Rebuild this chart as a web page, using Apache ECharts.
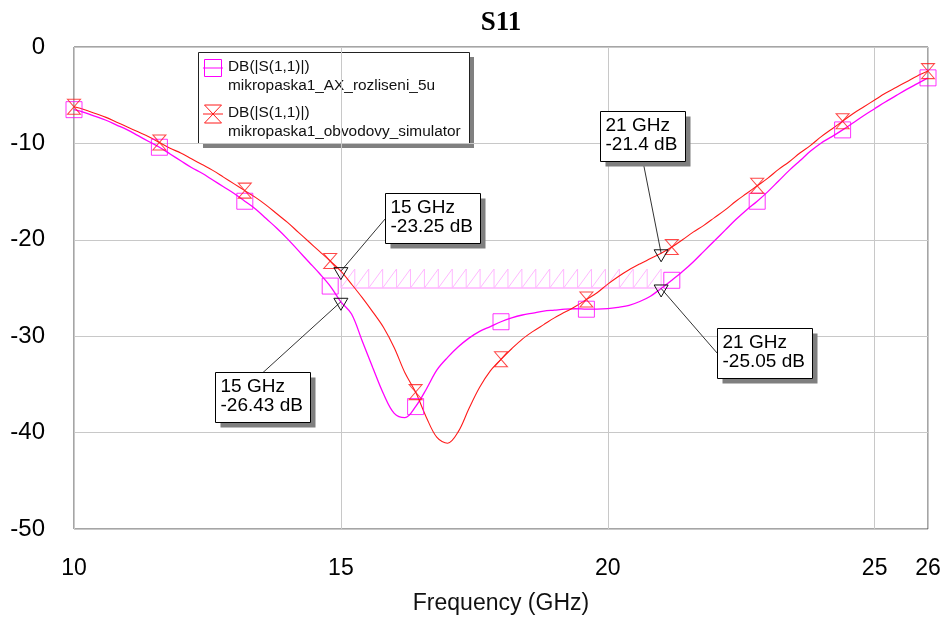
<!DOCTYPE html>
<html>
<head>
<meta charset="utf-8">
<script src="https://cdn.jsdelivr.net/npm/echarts@6/dist/echarts.min.js"></script>
<style>
  html, body { margin: 0; padding: 0; background: #fff; }
  #chart { width: 946px; height: 617px; }
</style>
</head>
<body>
<div id="chart"></div>
<script>
// Frequency sweep (GHz)
const freqs = [
  10.0, 10.2, 10.4, 10.6, 10.8, 11.0, 11.2, 11.4, 11.6, 11.8,
  12.0, 12.2, 12.4, 12.6, 12.8, 13.0, 13.2, 13.4, 13.6, 13.8,
  14.0, 14.2, 14.4, 14.6, 14.8, 15.0, 15.2, 15.4, 15.6, 15.8,
  16.0, 16.2, 16.4, 16.6, 16.8, 17.0, 17.2, 17.4, 17.6, 17.8,
  18.0, 18.2, 18.4, 18.6, 18.8, 19.0, 19.2, 19.4, 19.6, 19.8,
  20.0, 20.2, 20.4, 20.6, 20.8, 21.0, 21.2, 21.4, 21.6, 21.8,
  22.0, 22.2, 22.4, 22.6, 22.8, 23.0, 23.2, 23.4, 23.6, 23.8,
  24.0, 24.2, 24.4, 24.6, 24.8, 25.0, 25.2, 25.4, 25.6, 25.8,
  26.0
];

// DB(|S(1,1)|), mikropaska1_AX_rozliseni_5u
const s11Ax = [
  -6.5, -6.8, -7.2, -7.6, -8.1, -8.6, -9.2, -9.8, -10.4, -11.1,
  -11.8, -12.5, -13.1, -13.8, -14.5, -15.2, -16.0, -16.8, -17.8, -18.8,
  -19.9, -21.1, -22.3, -23.5, -24.8, -26.43, -27.7, -30.5, -33.3, -36.0,
  -38.0, -38.45, -37.3, -35.5, -33.5, -32.2, -31.1, -30.2, -29.5, -29.0,
  -28.5, -28.1, -27.8, -27.6, -27.4, -27.3, -27.2, -27.15, -27.2, -27.2,
  -27.15, -27.0, -26.8, -26.4, -25.85, -25.05, -24.2, -23.3, -22.3, -21.2,
  -20.1, -19.0, -17.9, -16.9, -16.0, -15.0, -13.9, -12.8, -11.8, -10.8,
  -9.95, -9.3, -8.6, -7.85, -7.1, -6.4, -5.7, -5.05, -4.4, -3.8,
  -3.2
];

// DB(|S(1,1)|), mikropaska1_obvodovy_simulator
const s11Obv = [
  -6.2, -6.5, -6.9, -7.3, -7.8, -8.3, -8.8, -9.3, -9.9, -10.5,
  -11.0, -11.6, -12.2, -12.8, -13.5, -14.2, -14.9, -15.6, -16.4, -17.3,
  -18.2, -19.2, -20.2, -21.2, -22.2, -23.25, -24.6, -26.0, -27.5, -29.1,
  -31.2, -33.8, -35.8, -38.4, -40.5, -41.1, -39.9, -37.5, -35.3, -33.6,
  -32.4, -31.3, -30.3, -29.5, -28.8, -28.1, -27.5, -26.9, -26.2, -25.5,
  -24.6, -23.8, -23.1, -22.5, -21.95, -21.4, -20.75, -20.0, -19.2, -18.5,
  -17.7, -16.9, -16.0, -15.2, -14.4, -13.6, -12.7, -11.9, -11.0, -10.2,
  -9.3, -8.5, -7.7, -6.9, -6.2, -5.5, -4.8, -4.2, -3.6, -3.0,
  -2.5
];

// Frequencies where trace symbols are drawn
const symbolFreqs = [10.0, 11.6, 13.2, 14.8, 16.4, 18.0, 19.6, 21.2, 22.8, 24.4, 26.0];

// Marker readouts (GHz)
const readoutFreqs = [15, 21];

// Optimization goal: S11 below this level over the band
const goalBand = [15, 21];
const goalLevel = -25;

// Axis ticks
const xMin = 10, xMax = 26, xStep = 5;
const yMin = -50, yMax = 0, yStep = 10;

const traceNames = ['mikropaska1_AX_rozliseni_5u', 'mikropaska1_obvodovy_simulator'];

const MAGENTA = '#ff00ff';
const RED = '#ff1a1a';
const FONT = '"Liberation Sans", Arial, sans-serif';

const axData = freqs.map((f, i) => [f, s11Ax[i]]);
const obvData = freqs.map((f, i) => [f, s11Obv[i]]);
const pick = (data) => data.filter(d => symbolFreqs.includes(d[0]));
const valueAt = (data, f) => data.find(d => d[0] === f)[1];

// Readout callouts: which trace, and where the box sits relative to the point
const callouts = [
  { trace: obvData, freq: readoutFreqs[0], dx: 44,   dy: -78,  attach: 'left' },
  { trace: axData,  freq: readoutFreqs[0], dx: -126, dy: 70,   attach: 'top' },
  { trace: obvData, freq: readoutFreqs[1], dx: -61,  dy: -142, attach: 'bottom' },
  { trace: axData,  freq: readoutFreqs[1], dx: 56,   dy: 40,   attach: 'left' }
].map(c => Object.assign(c, { value: valueAt(c.trace, c.freq) }));

const measureCtx = document.createElement('canvas').getContext('2d');
const CALLOUT_FONT = '19px ' + FONT;
measureCtx.font = CALLOUT_FONT;

function renderCallout(params, api) {
  const c = callouts[params.dataIndex];
  const p = api.coord([api.value(0), api.value(1)]);
  const lines = [c.freq + ' GHz', c.value + ' dB'];
  const tw = Math.max(...lines.map(t => measureCtx.measureText(t).width));
  const padL = 5, padR = 8, padT = 5, lh = 19;
  const w = Math.round(tw + padL + padR), h = 50;
  const bx = Math.round(p[0] + c.dx) + 0.5, by = Math.round(p[1] + c.dy) + 0.5;
  let ex, ey;
  if (c.attach === 'left') { ex = bx; ey = by + h / 2; }
  else if (c.attach === 'top') { ex = bx + w / 2; ey = by; }
  else { ex = bx + w / 2; ey = by + h; }
  return {
    type: 'group',
    children: [
      { type: 'line', shape: { x1: p[0], y1: p[1], x2: ex, y2: ey },
        style: { stroke: '#333', lineWidth: 1 } },
      { type: 'polygon',
        shape: { points: [[p[0] - 7, p[1] - 3.5], [p[0] + 7, p[1] - 3.5], [p[0], p[1] + 8.5]] },
        style: { fill: 'none', stroke: '#111', lineWidth: 1 } },
      { type: 'rect', shape: { x: bx + 5, y: by + 5, width: w, height: h },
        style: { fill: '#7f7f7f' } },
      { type: 'rect', shape: { x: bx, y: by, width: w, height: h },
        style: { fill: '#fff', stroke: '#000', lineWidth: 1 } },
      { type: 'text',
        style: { text: lines.join('\n'), x: bx + padL, y: by + padT, font: CALLOUT_FONT,
                 lineHeight: lh, fill: '#000', align: 'left', verticalAlign: 'top' } }
    ]
  };
}

function renderGoal(params, api) {
  const a = api.coord([api.value(0), api.value(2)]);
  const b = api.coord([api.value(1), api.value(2)]);
  const hatchH = 19;
  const n = Math.max(1, Math.round((b[0] - a[0]) / 13.7));
  const step = (b[0] - a[0]) / n;
  const hatch = '#ffb8ff';
  const children = [
    { type: 'line', shape: { x1: a[0], y1: a[1], x2: b[0], y2: b[1] },
      style: { stroke: '#ff90ff', lineWidth: 1.2 } }
  ];
  for (let i = 0; i <= n; i++) {
    const x = a[0] + i * step;
    children.push({ type: 'line', shape: { x1: x, y1: a[1], x2: x, y2: a[1] - hatchH },
      style: { stroke: hatch, lineWidth: 1 } });
    if (i < n) {
      children.push({ type: 'line', shape: { x1: x, y1: a[1], x2: x + step, y2: a[1] - hatchH },
        style: { stroke: hatch, lineWidth: 1 } });
    }
  }
  return { type: 'group', children };
}

const HOURGLASS = 'path://M0,0L10,0L0,10L10,10Z';

// Legend (drawn as a framed box with trace swatches)
const LX = 198, LY = 52, LW = 271, LH = 91;
const LEGEND_FONT = '15.4px ' + FONT;
function hourglassPoints(cx, cy, w, h) {
  return [[cx - w / 2, cy - h / 2], [cx + w / 2, cy - h / 2], [cx - w / 2, cy + h / 2], [cx + w / 2, cy + h / 2]];
}
const legendGraphic = {
  type: 'group', z: 100,
  children: [
    { type: 'rect', shape: { x: LX + 5, y: LY + 5, width: LW, height: LH }, style: { fill: '#808080' } },
    { type: 'rect', shape: { x: LX + 0.5, y: LY + 0.5, width: LW, height: LH },
      style: { fill: '#fff', stroke: '#222', lineWidth: 1 } },
    { type: 'line', shape: { x1: LX + 5, y1: LY + 16, x2: LX + 25, y2: LY + 16 },
      style: { stroke: MAGENTA, lineWidth: 1 } },
    { type: 'rect', shape: { x: LX + 6.5, y: LY + 7.5, width: 17, height: 17 },
      style: { fill: 'none', stroke: MAGENTA, lineWidth: 1 } },
    { type: 'text', style: { text: 'DB(|S(1,1)|)', x: LX + 30, y: LY + 15, font: LEGEND_FONT,
      fill: '#111', verticalAlign: 'middle' } },
    { type: 'text', style: { text: traceNames[0], x: LX + 30, y: LY + 34, font: LEGEND_FONT,
      fill: '#111', verticalAlign: 'middle' } },
    { type: 'line', shape: { x1: LX + 5, y1: LY + 62, x2: LX + 25, y2: LY + 62 },
      style: { stroke: RED, lineWidth: 1 } },
    { type: 'polygon', shape: { points: hourglassPoints(LX + 15, LY + 62, 17, 18) },
      style: { fill: 'none', stroke: RED, lineWidth: 1 } },
    { type: 'text', style: { text: 'DB(|S(1,1)|)', x: LX + 30, y: LY + 61, font: LEGEND_FONT,
      fill: '#111', verticalAlign: 'middle' } },
    { type: 'text', style: { text: traceNames[1], x: LX + 30, y: LY + 80, font: LEGEND_FONT,
      fill: '#111', verticalAlign: 'middle' } }
  ]
};

const chart = echarts.init(document.getElementById('chart'), null, { renderer: 'canvas' });
chart.setOption({
  animation: false,
  backgroundColor: '#fff',
  title: {
    text: 'S11', left: 501, top: 10, textAlign: 'center', padding: 0,
    textStyle: { fontFamily: '"Liberation Serif", "Times New Roman", serif', fontWeight: 'bold',
                 fontSize: 27, color: '#000' }
  },
  grid: { left: 74, right: 18, top: 47, bottom: 88, show: true, borderColor: '#4a4a4a',
          borderWidth: 1, backgroundColor: 'transparent', containLabel: false,
          outerBoundsMode: 'none' },
  xAxis: {
    type: 'value', min: xMin, max: xMax, interval: xStep,
    name: 'Frequency (GHz)', nameLocation: 'middle', nameGap: 63,
    nameTextStyle: { fontFamily: FONT, fontSize: 23, color: '#111' },
    axisLine: { show: false }, axisTick: { show: false },
    axisLabel: { fontFamily: FONT, fontSize: 23, color: '#000', margin: 28, showMaxLabel: true },
    splitLine: { show: true, lineStyle: { color: '#c8c8c8', width: 1 } }
  },
  yAxis: {
    type: 'value', min: yMin, max: yMax, interval: yStep,
    axisLine: { show: false }, axisTick: { show: false },
    axisLabel: { fontFamily: FONT, fontSize: 24, color: '#000', margin: 29 },
    splitLine: { show: true, lineStyle: { color: '#c8c8c8', width: 1 } }
  },
  graphic: [legendGraphic],
  series: [
    {
      type: 'custom', name: 'goal', renderItem: renderGoal, z: 1,
      data: [[goalBand[0], goalBand[1], goalLevel]], silent: true
    },
    {
      type: 'line', name: traceNames[0], data: axData, smooth: 0.35, showSymbol: false,
      lineStyle: { color: MAGENTA, width: 1.3 }, z: 3
    },
    {
      type: 'line', name: traceNames[1], data: obvData, smooth: 0.35, showSymbol: false,
      lineStyle: { color: RED, width: 1.1 }, z: 4
    },
    {
      type: 'scatter', data: pick(axData), symbol: 'rect', symbolSize: 16, clip: true,
      itemStyle: { color: 'rgba(0,0,0,0)', borderColor: MAGENTA, borderWidth: 1 }, z: 5
    },
    {
      type: 'scatter', data: pick(obvData), symbol: HOURGLASS, symbolSize: [13, 15], clip: true,
      itemStyle: { color: 'rgba(0,0,0,0)', borderColor: RED, borderWidth: 1 }, z: 6
    },
    {
      type: 'custom', name: 'readouts', renderItem: renderCallout, z: 10, clip: false,
      data: callouts.map(c => [c.freq, c.value]), silent: true
    }
  ]
});
</script>
</body>
</html>
